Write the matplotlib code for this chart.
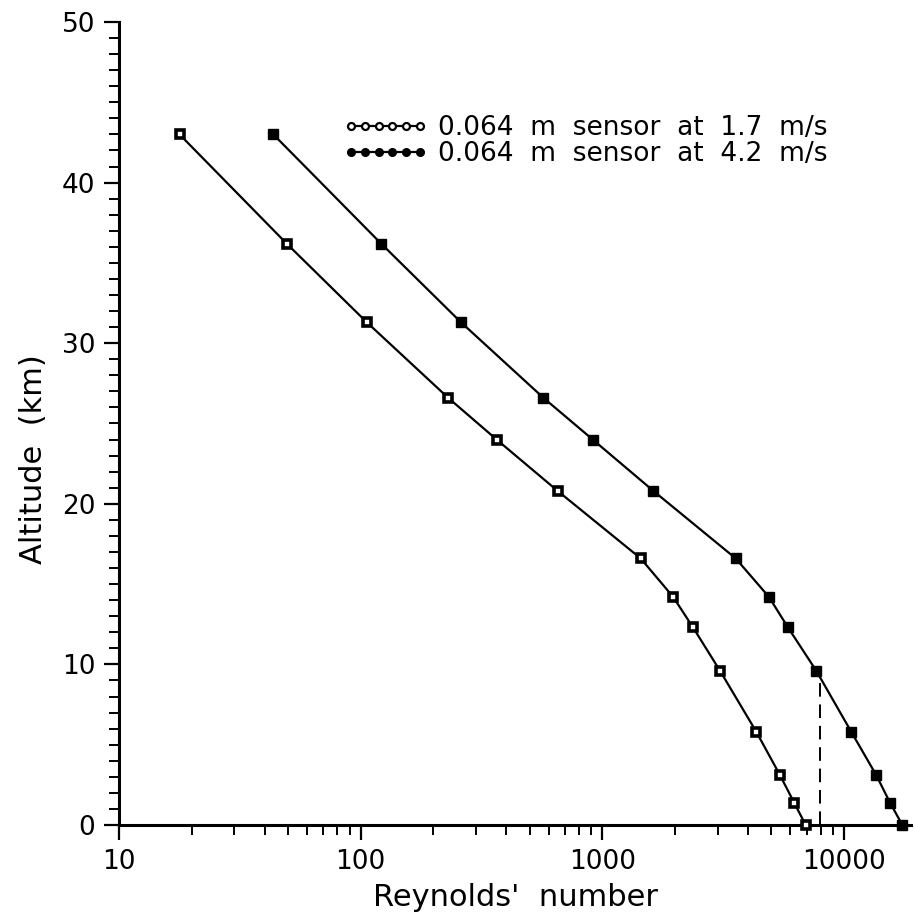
import numpy as np
import matplotlib.pyplot as plt
from matplotlib.lines import Line2D
from matplotlib.ticker import FixedLocator, LogLocator, MultipleLocator, NullFormatter

# altitude (km) of the sample points, same for both curves
altitude = [43.0, 36.2, 31.3, 26.6, 24.0, 20.8, 16.6, 14.2, 12.3, 9.6, 5.8, 3.1, 1.4, 0.0]
# Reynolds number, 0.064 m sensor at 1.7 m/s (open squares)
re_slow = [17.8, 49.4, 106, 230, 365, 653, 1440, 1963, 2372, 3068, 4335, 5432, 6210, 6935]
# Reynolds number, 0.064 m sensor at 4.2 m/s (filled squares)
re_fast = [43.5, 121.5, 260, 570, 912, 1626, 3560, 4888, 5860, 7676, 10710, 13590, 15480, 17420]

series_labels = ['0.064  m  sensor  at  1.7  m/s', '0.064  m  sensor  at  4.2  m/s']
x_ticks = [10, 100, 1000, 10000]
x_ticklabels = ['10', '100', '1000', '10000']
y_ticks = [0, 10, 20, 30, 40, 50]

# dashed marker line
dash_re = 7950
dash_alt = [0.0, 9.0]

fig = plt.figure(figsize=(9.14, 9.19), dpi=100)
ax = fig.add_axes([0.1302, 0.1023, 0.867, 0.8738])

ax.plot(re_slow, altitude, color='black', lw=1.6, marker='s', ms=6, mfc='white',
        mec='black', mew=2.6, clip_on=False, zorder=3)
ax.plot(re_fast, altitude, color='black', lw=1.6, marker='s', ms=7, mfc='black',
        mec='black', clip_on=False, zorder=3)
ax.plot([dash_re, dash_re], dash_alt, color='black', lw=1.4, ls=(0, (7, 4)), zorder=2)

ax.set_xscale('log')
ax.set_xlim(10, 19000)
ax.set_ylim(0, 50)

ax.xaxis.set_major_locator(FixedLocator(x_ticks))
ax.set_xticklabels(x_ticklabels)
ax.xaxis.set_minor_locator(LogLocator(base=10, subs=np.arange(2, 10)))
ax.xaxis.set_minor_formatter(NullFormatter())
ax.set_yticks(y_ticks)
ax.yaxis.set_minor_locator(MultipleLocator(1))

for s in ['top', 'right']:
    ax.spines[s].set_visible(False)
for s in ['left', 'bottom']:
    ax.spines[s].set_linewidth(2.2)

ax.tick_params(which='major', direction='out', length=11, width=1.6, labelsize=19, pad=6)
ax.tick_params(which='minor', direction='out', length=7, width=1.4)

ax.set_xlabel("Reynolds'  number", fontsize=22, labelpad=6)
ax.set_ylabel('Altitude  (km)', fontsize=22)
ax.yaxis.set_label_coords(-0.09, 0.455)

handles = [
    Line2D([], [], color='black', lw=1.6, marker='o', ms=5, mfc='white', mec='black', mew=1.6),
    Line2D([], [], color='black', lw=1.6, marker='o', ms=5.5, mfc='black', mec='black'),
]
ax.legend(handles, series_labels, loc='upper left', bbox_to_anchor=(0.283, 0.884),
          frameon=False, borderpad=0, borderaxespad=0, numpoints=6, handlelength=3.2,
          handletextpad=0.4, labelspacing=0.0, fontsize=19)

fig.savefig('out.png', dpi=100)
